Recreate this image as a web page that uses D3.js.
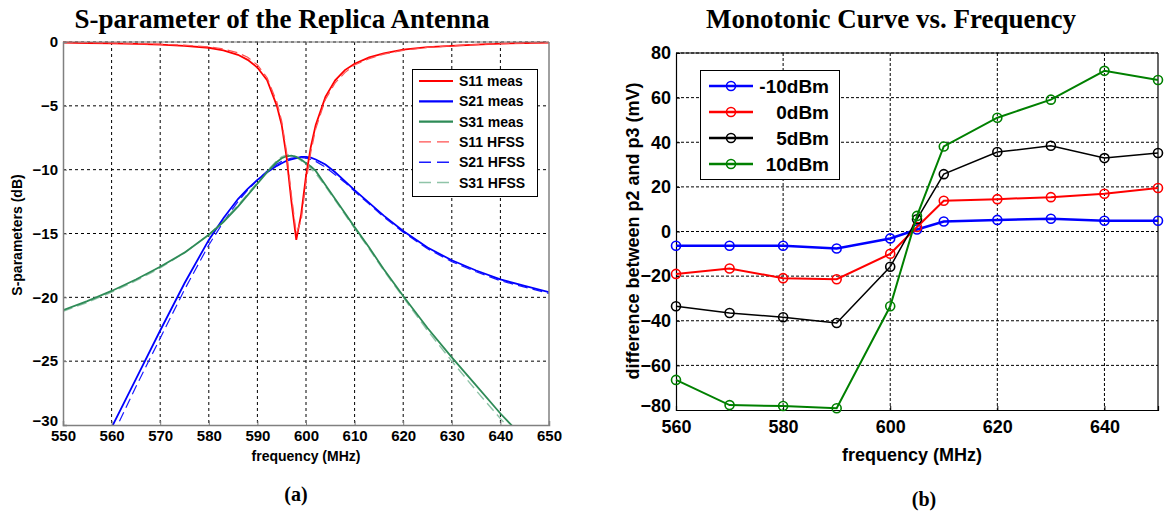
<!DOCTYPE html>
<html><head><meta charset="utf-8">
<script src="https://cdn.jsdelivr.net/npm/d3@7/dist/d3.min.js"></script>
<style>body{margin:0;background:#fff}svg{display:block}</style>
</head><body>
<svg id="c" width="1168" height="514"></svg>
<script>
// ---------- Left chart data (S-parameters, dB) ----------
const freqA = [550,555,560,565,570,575,580,583,586,588,590,592,594,595,596,597,598,599,600,601,602,604,606,608,610,613,616,620,625,630,635,640,645,650];
const s11Meas = [-0.05,-0.08,-0.1,-0.15,-0.2,-0.3,-0.45,-0.65,-1.0,-1.4,-2.0,-3.0,-5.0,-6.5,-9.0,-12.5,-15.5,-13.5,-10.5,-8.2,-6.5,-4.3,-3.0,-2.2,-1.7,-1.2,-0.9,-0.6,-0.4,-0.3,-0.2,-0.12,-0.08,-0.05];
const s21Meas = [-37,-33.5,-30.2,-26.4,-22.6,-18.9,-15.5,-13.8,-12.3,-11.5,-10.8,-10.2,-9.7,-9.5,-9.3,-9.2,-9.1,-9.0,-9.0,-9.05,-9.2,-9.6,-10.2,-10.9,-11.6,-12.6,-13.6,-14.8,-16.1,-17.1,-17.9,-18.6,-19.1,-19.6];
const s31Meas = [-21.0,-20.3,-19.5,-18.6,-17.6,-16.5,-15.1,-14.1,-12.9,-12.0,-11.1,-10.2,-9.4,-9.1,-8.95,-8.9,-9.0,-9.2,-9.5,-9.75,-10.1,-11.2,-12.3,-13.4,-14.5,-16.1,-17.8,-19.9,-22.4,-24.7,-26.9,-29.1,-31.1,-33.0];
const s11Hfss = [0,-0.05,-0.08,-0.12,-0.17,-0.25,-0.38,-0.55,-0.85,-1.2,-1.8,-2.8,-4.7,-6.2,-8.6,-12.0,-15.0,-14.0,-11.0,-8.6,-6.8,-4.5,-3.2,-2.4,-1.8,-1.3,-0.95,-0.65,-0.42,-0.3,-0.2,-0.13,-0.08,-0.05];
const s21Hfss = [-38,-34.5,-31,-27,-23.2,-19.4,-15.9,-14.1,-12.5,-11.6,-10.8,-10.1,-9.55,-9.35,-9.2,-9.1,-9.05,-9.05,-9.1,-9.2,-9.35,-9.8,-10.4,-11.0,-11.7,-12.7,-13.7,-14.9,-16.2,-17.2,-18.0,-18.7,-19.2,-19.7];
const s31Hfss = [-21.1,-20.4,-19.6,-18.7,-17.7,-16.5,-15.1,-14.0,-12.8,-11.9,-11.0,-10.1,-9.3,-9.0,-8.85,-8.85,-9.0,-9.3,-9.6,-9.9,-10.3,-11.3,-12.4,-13.5,-14.6,-16.2,-17.9,-20.0,-22.6,-25.0,-27.3,-29.5,-31.6,-33.5];
const seriesNamesA = ["S11 meas","S21 meas","S31 meas","S11 HFSS","S21 HFSS","S31 HFSS"];
const xTicksA = [550,560,570,580,590,600,610,620,630,640,650];
const yTicksA = [0,-5,-10,-15,-20,-25,-30];

// ---------- Right chart data (mV) ----------
const freqB = [560,570,580,590,600,605,610,620,630,640,650];
const m10dBm = [-6.4,-6.4,-6.4,-7.6,-3.1,0.9,4.5,5.2,5.7,4.8,4.8];
const p0dBm  = [-19,-16.6,-20.9,-21.4,-10,2,13.8,14.5,15.4,16.9,19.5];
const p5dBm  = [-33.5,-36.5,-38.4,-41,-15.8,5.5,25.7,35.6,38.4,32.9,35.2];
const p10dBm = [-66.5,-77.8,-78.2,-79.2,-33.5,7,38.1,51,59.1,72,67.9];
const seriesNamesB = ["-10dBm","0dBm","5dBm","10dBm"];
const xTicksB = [560,580,600,620,640];
const yTicksB = [80,60,40,20,0,-20,-40,-60,-80];

const svg = d3.select("#c");
const sans = "'Liberation Sans', Arial, sans-serif";
const serif = "'Liberation Serif', 'Times New Roman', serif";

// ================= LEFT =================
const xA = d3.scaleLinear().domain([550,650]).range([63,549]);
const yA = d3.scaleLinear().domain([-30,0]).range([425,42]);
const gA = svg.append("g");
svg.append("defs").append("clipPath").attr("id","clipA").append("rect")
  .attr("x",63).attr("y",40).attr("width",486).attr("height",385);

gA.append("g").selectAll("line").data(xTicksA.slice(1,-1)).join("line")
  .attr("x1",d=>xA(d)).attr("x2",d=>xA(d)).attr("y1",yA(0)).attr("y2",yA(-30))
  .attr("stroke","#000").attr("stroke-width",1).attr("stroke-dasharray","3,3");
gA.append("g").selectAll("line").data(yTicksA.slice(0,-1)).join("line")
  .attr("y1",d=>yA(d)).attr("y2",d=>yA(d)).attr("x1",xA(550)).attr("x2",xA(650))
  .attr("stroke","#000").attr("stroke-width",1).attr("stroke-dasharray","3,3");

const lineA = vals => d3.line().x((d,i)=>xA(freqA[i])).y(d=>yA(d))(vals);
const curvesA = [
  {v:s21Hfss, c:"#1a1aff", w:1.2, dash:"10,5"},
  {v:s31Hfss, c:"#8fc4a8", w:1.4, dash:"10,5"},
  {v:s21Meas, c:"#0000ff", w:1.8, dash:null},
  {v:s31Meas, c:"#2e8b57", w:1.8, dash:null},
  {v:s11Meas, c:"#ff0000", w:1.8, dash:null},
  {v:s11Hfss, c:"#ff5050", w:1.2, dash:"10,5"}
];
const cg = gA.append("g").attr("clip-path","url(#clipA)");
curvesA.forEach(s=>{
  cg.append("path").attr("d",lineA(s.v)).attr("fill","none")
    .attr("stroke",s.c).attr("stroke-width",s.w)
    .attr("stroke-dasharray",s.dash);
});

const axA = gA.append("g").attr("transform","translate(0,425)")
  .call(d3.axisBottom(xA).tickValues(xTicksA).tickSize(-4).tickPadding(8).tickFormat(d3.format("d")));
const ayA = gA.append("g").attr("transform","translate(63,0)")
  .call(d3.axisLeft(yA).tickValues(yTicksA).tickSize(-4).tickPadding(5).tickFormat(d3.format("d")));
[axA,ayA].forEach(a=>{
  a.select(".domain").attr("stroke","#808080").attr("stroke-width",1.5);
  a.selectAll(".tick line").attr("stroke","#808080");
  a.selectAll("text").attr("font-family",sans).attr("font-weight","bold").attr("font-size",15).attr("fill","#000");
});
axA.selectAll("text").attr("dy","0.55em");
ayA.selectAll(".tick").filter(d=>d===-30).select("text").attr("dy","0.05em");
gA.append("line").attr("x1",549).attr("x2",549).attr("y1",42).attr("y2",425).attr("stroke","#808080").attr("stroke-width",1.5);
gA.append("line").attr("x1",63).attr("x2",549).attr("y1",42).attr("y2",42).attr("stroke","#808080").attr("stroke-width",1);

svg.append("text").attr("x",282).attr("y",28).attr("text-anchor","middle")
  .attr("font-family",serif).attr("font-weight","bold").attr("font-size",27).text("S-parameter of the Replica Antenna");
svg.append("text").attr("x",306).attr("y",461).attr("text-anchor","middle")
  .attr("font-family",sans).attr("font-weight","bold").attr("font-size",14).text("frequency (MHz)");
svg.append("text").attr("transform","translate(22,235) rotate(-90)").attr("text-anchor","middle")
  .attr("font-family",sans).attr("font-weight","bold").attr("font-size",14).text("S-parameters (dB)");
svg.append("text").attr("x",296).attr("y",501).attr("text-anchor","middle")
  .attr("font-family",serif).attr("font-weight","bold").attr("font-size",20).text("(a)");

const legA = svg.append("g");
legA.append("rect").attr("x",412.5).attr("y",69.5).attr("width",125).attr("height",127)
  .attr("fill","#fff").attr("stroke","#000").attr("stroke-width",1);
const legStyleA = [curvesA[4],curvesA[2],curvesA[3],curvesA[5],curvesA[0],curvesA[1]];
seriesNamesA.forEach((n,i)=>{
  const y = 81 + i*20.3;
  const s = legStyleA[i];
  legA.append("line").attr("x1",419).attr("x2",453).attr("y1",y).attr("y2",y)
    .attr("stroke",s.c).attr("stroke-width",s.dash?1.4:2.2).attr("stroke-dasharray",s.dash?"12,6":null);
  legA.append("text").attr("x",459).attr("y",y+5).attr("font-family",sans).attr("font-weight","bold")
    .attr("font-size",14).text(n);
});

// ================= RIGHT =================
const xB = d3.scaleLinear().domain([560,650]).range([676,1158]);
const yB = d3.scaleLinear().domain([-80,80]).range([410,53]);
const gB = svg.append("g");
gB.append("g").selectAll("line").data(xTicksB.slice(1)).join("line")
  .attr("x1",d=>xB(d)).attr("x2",d=>xB(d)).attr("y1",yB(80)).attr("y2",yB(-80))
  .attr("stroke","#000").attr("stroke-width",1).attr("stroke-dasharray","3,2");
gB.append("g").selectAll("line").data(yTicksB.slice(0,-1)).join("line")
  .attr("y1",d=>yB(d)).attr("y2",d=>yB(d)).attr("x1",xB(560)).attr("x2",xB(650))
  .attr("stroke","#000").attr("stroke-width",1).attr("stroke-dasharray","3,2");

const axB = gB.append("g").attr("transform","translate(0,410)")
  .call(d3.axisBottom(xB).tickValues(xTicksB).tickSize(-4).tickPadding(12).tickFormat(d3.format("d")));
const ayB = gB.append("g").attr("transform","translate(676,0)")
  .call(d3.axisLeft(yB).tickValues(yTicksB).tickSize(-4).tickPadding(5).tickFormat(d3.format("d")));
[axB,ayB].forEach(a=>{
  a.select(".domain").attr("stroke","#000").attr("stroke-width",1.2);
  a.selectAll(".tick line").attr("stroke","#000");
  a.selectAll("text").attr("font-family",sans).attr("font-weight","bold").attr("font-size",18).attr("fill","#000");
});
axB.selectAll("text").attr("dy","0.62em");
ayB.selectAll(".tick").filter(d=>d===-80).select("text").attr("dy","0.1em");
gB.append("line").attr("x1",1158).attr("x2",1158).attr("y1",53).attr("y2",410).attr("stroke","#000").attr("stroke-width",1.2);
gB.append("line").attr("x1",676).attr("x2",1158).attr("y1",53).attr("y2",53).attr("stroke","#000").attr("stroke-width",1.2);

const seriesB = [
  {v:m10dBm, c:"#0000ff", w:2.5},
  {v:p0dBm,  c:"#ff0000", w:2},
  {v:p5dBm,  c:"#000000", w:1.5},
  {v:p10dBm, c:"#008000", w:2}
];
const lineB = vals => d3.line().x((d,i)=>xB(freqB[i])).y(d=>yB(d))(vals);
seriesB.forEach(s=>{
  gB.append("path").attr("d",lineB(s.v)).attr("fill","none").attr("stroke",s.c).attr("stroke-width",s.w);
  gB.append("g").selectAll("circle").data(s.v).join("circle")
    .attr("cx",(d,i)=>xB(freqB[i])).attr("cy",d=>yB(d)).attr("r",4.5)
    .attr("fill","none").attr("stroke",s.c).attr("stroke-width",1.6);
});

svg.append("text").attr("x",891).attr("y",28).attr("text-anchor","middle")
  .attr("font-family",serif).attr("font-weight","bold").attr("font-size",27).text("Monotonic Curve vs. Frequency");
svg.append("text").attr("x",912).attr("y",461).attr("text-anchor","middle")
  .attr("font-family",sans).attr("font-weight","bold").attr("font-size",18).text("frequency (MHz)");
svg.append("text").attr("transform","translate(639,231) rotate(-90)").attr("text-anchor","middle")
  .attr("font-family",sans).attr("font-weight","bold").attr("font-size",18).text("difference between p2 and p3 (mV)");
svg.append("text").attr("x",924).attr("y",506).attr("text-anchor","middle")
  .attr("font-family",serif).attr("font-weight","bold").attr("font-size",20).text("(b)");

const legB = svg.append("g");
legB.append("rect").attr("x",700.5).attr("y",70.5).attr("width",139).attr("height",109)
  .attr("fill","#fff").attr("stroke","#000").attr("stroke-width",1);
seriesNamesB.forEach((n,i)=>{
  const y = 86 + i*26;
  const s = seriesB[i];
  legB.append("line").attr("x1",709).attr("x2",753).attr("y1",y).attr("y2",y).attr("stroke",s.c).attr("stroke-width",2.5);
  legB.append("circle").attr("cx",731).attr("cy",y).attr("r",4.5).attr("fill","none").attr("stroke",s.c).attr("stroke-width",1.6);
  legB.append("text").attr("x",829).attr("y",y+7).attr("text-anchor","end").attr("font-family",sans)
    .attr("font-weight","bold").attr("font-size",19).text(n);
});
</script>
</body></html>
